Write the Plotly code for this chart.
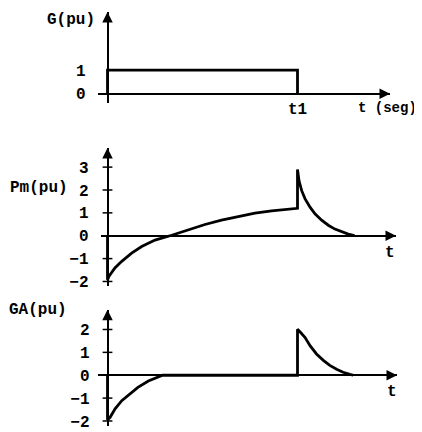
import plotly.graph_objects as go

# ---------------- data ----------------
t1 = 1.0
g_t = [0, 0, t1, t1]
g_val = [0, 1, 1, 0]

pm_t = [0, 0, 0.008, 0.039, 0.075, 0.127, 0.18, 0.25, 0.338, 0.425, 0.513, 0.60, 0.688,
        0.776, 0.864, 0.952, 1.0,
        1.0, 1.008, 1.022, 1.04, 1.066, 1.092, 1.127, 1.162, 1.197, 1.233, 1.267, 1.294, 1.30]
pm_val = [0, -1.93, -1.77, -1.41, -1.12, -0.76, -0.47, -0.19, 0.02, 0.27, 0.49, 0.68, 0.85,
          0.99, 1.09, 1.16, 1.20,
          2.90, 2.40, 1.97, 1.61, 1.25, 0.96, 0.68, 0.46, 0.29, 0.16, 0.07, 0.02, 0.0]

ga_t = [0, 0, 0.013, 0.04, 0.075, 0.11, 0.16, 0.215, 0.27, 0.29, 1.0,
        1.0, 1.013, 1.04, 1.066, 1.10, 1.136, 1.17, 1.206, 1.24, 1.276, 1.294]
ga_val = [0, -1.95, -1.85, -1.47, -1.11, -0.86, -0.53, -0.25, -0.07, 0.0, 0.0,
          2.01, 1.90, 1.65, 1.29, 0.93, 0.65, 0.43, 0.26, 0.13, 0.04, 0.0]

g_ticks = [0, 1]
g_ticktext = ["0", "1"]
pm_ticks = [-2, -1, 0, 1, 2, 3]
pm_ticktext = ["\u22122", "\u22121", "0", "1", "2", "3"]
ga_ticks = [-2, -1, 0, 1, 2]
ga_ticktext = ["\u22122", "\u22121", "0", "1", "2"]
t_ticks = [t1]
t_ticktext = ["t1"]

# ---------------- layout geometry (pixels of the 422x432 window) ----------------
OFF = 8                     # page body margin of the html page
W, H = 422 - OFF, 432 - OFF
X0 = 107.5                  # window pixel x of t = 0
PXT = 190.0                 # pixels per unit of t
FONT = dict(family="Liberation Mono, Courier New, monospace", size=16, color="black",
            weight="bold")


def pxx(px):
    return (px - OFF) / W


def pxy(py):
    return 1 - (py - OFF) / H


panels = [
    dict(xl=98, xr=390, yt=12, yb=104, yz=95, ppu=24.0, ticks=g_ticks, ticktext=g_ticktext,
         standoff=18, marks=False),
    dict(xl=101, xr=396, yt=150, yb=290, yz=239, ppu=23.2, ticks=pm_ticks, ticktext=pm_ticktext,
         standoff=15, marks=True),
    dict(xl=98, xr=397, yt=314, yb=432, yz=380.5, ppu=23.2, ticks=ga_ticks, ticktext=ga_ticktext,
         standoff=14, marks=True),
]
series = [(g_t, g_val), (pm_t, pm_val), (ga_t, ga_val)]

fig = go.Figure()
layout = dict(width=W, height=H, margin=dict(l=0, r=0, t=0, b=0),
              paper_bgcolor="white", plot_bgcolor="rgba(0,0,0,0)",
              showlegend=False, font=FONT, hovermode=False)
annotations = []

for i, (p, (tx, ty)) in enumerate(zip(panels, series), start=1):
    xr0 = (p["xl"] - X0) / PXT
    xr1 = (p["xr"] - X0) / PXT
    yr0 = -(p["yb"] - p["yz"]) / p["ppu"]
    yr1 = (p["yz"] - p["yt"]) / p["ppu"]
    xname = "xaxis" if i == 1 else f"xaxis{i}"
    yname = "yaxis" if i == 1 else f"yaxis{i}"
    xs = "x" if i == 1 else f"x{i}"
    ys = "y" if i == 1 else f"y{i}"
    layout[xname] = dict(
        domain=[pxx(p["xl"]), pxx(p["xr"])], range=[xr0, xr1],
        anchor="free", position=pxy(p["yz"]),
        showline=True, linewidth=1.5, linecolor="black",
        showgrid=False, zeroline=False, ticks="",
        tickvals=t_ticks if i == 1 else [], ticktext=t_ticktext if i == 1 else [],
        showticklabels=(i == 1), tickfont=FONT, fixedrange=True,
        ticklabeloverflow="allow",
    )
    layout[yname] = dict(
        domain=[pxy(p["yb"]), pxy(p["yt"])], range=[yr0, yr1],
        anchor="free", position=pxx(X0),
        showline=True, linewidth=1.5, linecolor="black",
        showgrid=False, zeroline=False, ticks="",
        tickvals=p["ticks"], ticktext=p["ticktext"], tickfont=FONT,
        ticklabelstandoff=p["standoff"], fixedrange=True,
        ticklabeloverflow="allow",
    )
    fig.add_trace(go.Scatter(x=tx, y=ty, mode="lines", xaxis=xs, yaxis=ys,
                             line=dict(color="black", width=2.8), cliponaxis=False))
    if p["marks"]:
        fig.add_trace(go.Scatter(x=[0] * len(p["ticks"]), y=p["ticks"], mode="markers",
                                 xaxis=xs, yaxis=ys, cliponaxis=False,
                                 marker=dict(symbol="line-ew", size=7, color="black",
                                             line=dict(color="black", width=1.5))))
    # arrowheads
    annotations.append(dict(x=xr1, y=0, xref=xs, yref=ys, text="", showarrow=True,
                            ax=-10, ay=0, arrowhead=2, arrowsize=1.4, arrowwidth=1.5,
                            arrowcolor="black", standoff=0))
    annotations.append(dict(x=0, y=yr1, xref=xs, yref=ys, text="", showarrow=True,
                            ax=0, ay=10, arrowhead=2, arrowsize=1.4, arrowwidth=1.5,
                            arrowcolor="black", standoff=0))

labels = [
    ("G(pu)", 45, 20, "left", 16),
    ("Pm(pu)", 8, 191, "left", 16),
    ("GA(pu)", 7, 314, "left", 16),
    ("t (seg)", 387, 109, "center", 14),
    ("t", 390, 257, "center", 16),
    ("t", 392, 398, "center", 16),
]
for txt, px, py, anc, fs in labels:
    annotations.append(dict(text=txt, x=pxx(px), y=pxy(py), xref="paper", yref="paper",
                            xanchor=anc, yanchor="middle", showarrow=False,
                            font=dict(FONT, size=fs)))

layout["annotations"] = annotations
fig.update_layout(**layout)
fig.write_html("out.html", config={"displayModeBar": False})
